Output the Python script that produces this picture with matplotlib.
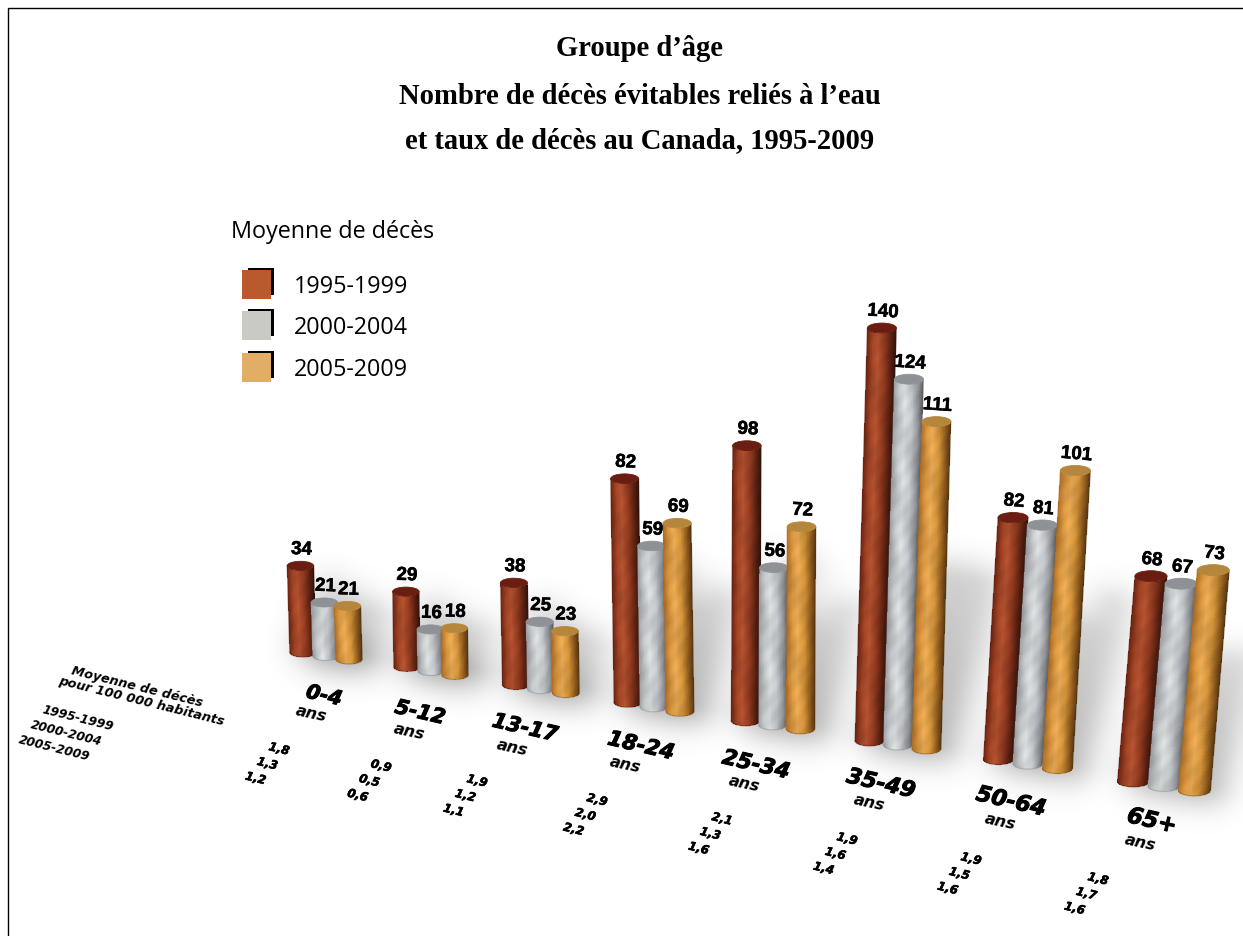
import numpy as np
import matplotlib
matplotlib.use("Agg")
import matplotlib.pyplot as plt
import matplotlib.patheffects as pe
from matplotlib.patches import Ellipse, Rectangle

groupes = ["0-4", "5-12", "13-17", "18-24", "25-34", "35-49", "50-64", "65+"]
periodes = ["1995-1999", "2000-2004", "2005-2009"]
deces_1995 = [34, 29, 38, 82, 98, 140, 82, 68]
deces_2000 = [21, 16, 25, 59, 56, 124, 81, 67]
deces_2005 = [21, 18, 23, 69, 72, 111, 101, 73]
taux_1995 = [1.8, 0.9, 1.9, 2.9, 2.1, 1.9, 1.9, 1.8]
taux_2000 = [1.3, 0.5, 1.2, 2.0, 1.3, 1.6, 1.5, 1.7]
taux_2005 = [1.2, 0.6, 1.1, 2.2, 1.6, 1.4, 1.6, 1.6]

# perspective of the floor, one entry per group (pixels of the 1243x937 canvas)
base_x = [326, 431, 541, 654, 773, 898, 1028, 1164]
base_y = [657, 672, 690, 708, 726, 746, 765, 787]
pas_x = [23, 24, 25, 26, 27.5, 28.5, 29.5, 30.5]
pas_y = [3.5, 4, 4, 4.5, 4, 4, 4.5, 4.5]
largeur = [26.5, 26.5, 27, 28, 28.5, 29, 30, 32]
echelle = [2.55, 2.6, 2.69, 2.73, 2.81, 2.95, 2.95, 3.02]
penche = [-0.03, -0.015, -0.02, -0.015, 0.005, 0.03, 0.06, 0.085]
rot_val = [-2, -2, -2, -3, -3, -4, -5, -6]

label_pos = [(324, 697), (420, 714), (525, 729), (641, 747), (756, 766), (881, 785), (1011, 803), (1152, 822)]
ans_pos = [(311, 714), (409, 732), (512, 748), (625, 765), (744, 784), (869, 803), (1000, 822), (1140, 843)]
taux_pos = [(279, 750), (381, 767), (477, 782), (597, 801), (722, 820), (847, 840), (971, 860), (1098, 880)]

palettes = [
    {"stops": [(104, 36, 18), (160, 66, 36), (174, 80, 46), (142, 56, 30), (84, 30, 16), (50, 18, 10)], "top": "#6a1d11"},
    {"stops": [(156, 158, 160), (192, 196, 198), (212, 215, 216), (190, 194, 198), (140, 142, 146), (92, 92, 94)], "top": "#8e9296"},
    {"stops": [(172, 110, 38), (214, 148, 62), (228, 166, 82), (204, 142, 54), (136, 86, 28), (86, 54, 16)], "top": "#b5873c"},
]
swatch_colors = ["#b85a2e", "#c9c9c5", "#e2ae66"]

fig = plt.figure(figsize=(12.43, 9.37), dpi=100)
ax = fig.add_axes([0, 0, 1, 1])
ax.set_xlim(0, 1243)
ax.set_ylim(937, 0)
ax.axis("off")

series = [deces_1995, deces_2000, deces_2005]
thick = [pe.withStroke(linewidth=0.7, foreground="black")]


def cylinder(cx, by, w, h, lean, pal, z):
    ry = w * 0.17
    u = np.linspace(0, 1, 49)
    t = np.linspace(0, h, max(int(h / 2), 4))
    U, T = np.meshgrid(u, t)
    X = cx + (U - 0.5) * w + lean * T
    Y = by - T + ry * np.sqrt(np.clip(1 - (2 * U - 1) ** 2, 0, 1))
    um = (u[:-1] + u[1:]) / 2
    tm = (t[:-1] + t[1:]) / 2
    stops = np.array(pal["stops"], dtype=float) / 255
    pos = np.array([0, 0.2, 0.38, 0.62, 0.85, 1])
    base = np.stack([np.interp(um, pos, stops[:, k]) for k in range(3)], axis=1)
    # faint diagonal streaks, like the brushed texture
    UU, TT = np.meshgrid(um, tm)
    grain = 1 + 0.04 * np.sin(TT * 0.09 + UU * 6 + cx) + 0.025 * np.sin(TT * 0.31 - UU * 11 + cx * 2)
    C = np.clip(base[None, :, :] * grain[:, :, None], 0, 1)
    ax.pcolormesh(X, Y, C, shading="flat", zorder=z, antialiased=False)
    ax.plot(X[:, 0], Y[:, 0], color=stops[0], lw=0.8, alpha=0.6, zorder=z)
    ax.plot(X[:, -1], Y[:, -1], color=stops[-1], lw=0.8, alpha=0.6, zorder=z)
    ax.plot(X[0, :], Y[0, :], color=stops[4], lw=0.8, alpha=0.5, zorder=z)
    ax.add_patch(Ellipse((cx + lean * h, by - h), w, 2 * ry, facecolor=pal["top"], edgecolor=pal["top"], lw=0.6, zorder=z + 0.1))
    return cx + lean * h, by - h


# soft floor shadow built from the bar heights
gx, gy = np.meshgrid(np.arange(0, 1243, 2.0), np.arange(0, 937, 2.0))
keep = np.ones_like(gx)
for i in range(len(groupes)):
    for s in range(3):
        h = series[s][i] * echelle[i]
        x0 = base_x[i] + (s - 1) * pas_x[i] + 14
        y0 = base_y[i] + (s - 1) * pas_y[i] - 10
        L = min(0.5 * h, 150)
        dx, dy = 0.28 * L, -L
        k = np.clip(((gx - x0) * dx + (gy - y0) * dy) / (dx ** 2 + dy ** 2), 0, 1)
        d2 = (gx - x0 - k * dx) ** 2 + (gy - y0 - k * dy) ** 2
        keep *= 1 - 0.2 * np.exp(-d2 / (2 * 19.0 ** 2)) * (1 - 0.4 * k)
rgba = np.zeros(gx.shape + (4,))
rgba[..., 3] = 1 - keep
ax.imshow(rgba, extent=(0, 1243, 937, 0), aspect="auto", zorder=1, interpolation="bilinear")
ax.set_xlim(0, 1243)
ax.set_ylim(937, 0)

for i in range(len(groupes)):
    for s in range(3):
        cx = base_x[i] + (s - 1) * pas_x[i]
        by = base_y[i] + (s - 1) * pas_y[i]
        h = series[s][i] * echelle[i]
        tx, ty = cylinder(cx, by, largeur[i], h, penche[i], palettes[s], 2 + s + i * 0.01)
        ax.text(tx + 1, ty - 16, str(series[s][i]), family="Liberation Sans", weight="bold", fontsize=13.5,
                rotation=rot_val[i], rotation_mode="anchor", ha="center", va="center", zorder=20,
                path_effects=[pe.withStroke(linewidth=0.4, foreground="black")])

# group labels and rates on the floor
oblique = dict(family="DejaVu Sans", weight="bold", style="italic", rotation_mode="anchor", ha="center", va="center", zorder=20)
for i, g in enumerate(groupes):
    ax.text(*label_pos[i], g, fontsize=14.5 + i * 0.25, rotation=-13, path_effects=thick, **oblique)
    ax.text(*ans_pos[i], "ans", fontsize=11.5, rotation=-12, **oblique)
    for s, vals in enumerate([taux_1995, taux_2000, taux_2005]):
        ax.text(taux_pos[i][0] - 11.7 * s, taux_pos[i][1] + 14.7 * s, f"{vals[i]:.1f}".replace(".", ","),
                fontsize=8.5, rotation=-14, path_effects=[pe.withStroke(linewidth=0.4, foreground="black")], **oblique)

ax.text(137, 687, "Moyenne de décès", fontsize=9.3, rotation=-14, **oblique)
ax.text(141, 701, "pour 100 000 habitants", fontsize=9.3, rotation=-14, **oblique)
for s, p in enumerate(periodes):
    ax.text(78 - 11.7 * s, 718 + 15 * s, p, fontsize=8.8, rotation=-14, **oblique)

# title
title_lines = ["Groupe d’âge", "Nombre de décès évitables reliés à l’eau", "et taux de décès au Canada, 1995-2009"]
for line, y in zip(title_lines, [48, 96, 141]):
    ax.text(640, y, line, family="Liberation Serif", weight="bold", fontsize=20.6, ha="center", va="center")

# legend
ax.text(231, 232, "Moyenne de décès", family="Open Sans", fontsize=16.8, ha="left", va="center")
for s, (p, y) in enumerate(zip(periodes, [271, 312, 354])):
    ax.add_patch(Rectangle((248, y - 2), 26, 27, facecolor="black", edgecolor="none", zorder=3))
    ax.add_patch(Rectangle((248, y), 23, 25, facecolor="white", edgecolor="none", zorder=3.1))
    ax.add_patch(Rectangle((242, y), 29, 29, facecolor=swatch_colors[s], edgecolor="none", zorder=3.2))
    ax.text(294, y + 16, p, family="Open Sans", fontsize=16.8, ha="left", va="center")

# page frame
ax.plot([8, 8, 1243], [937, 9, 9], color="black", lw=1, zorder=30, solid_joinstyle="miter")

fig.savefig("out.png", dpi=100)
plt.close()
